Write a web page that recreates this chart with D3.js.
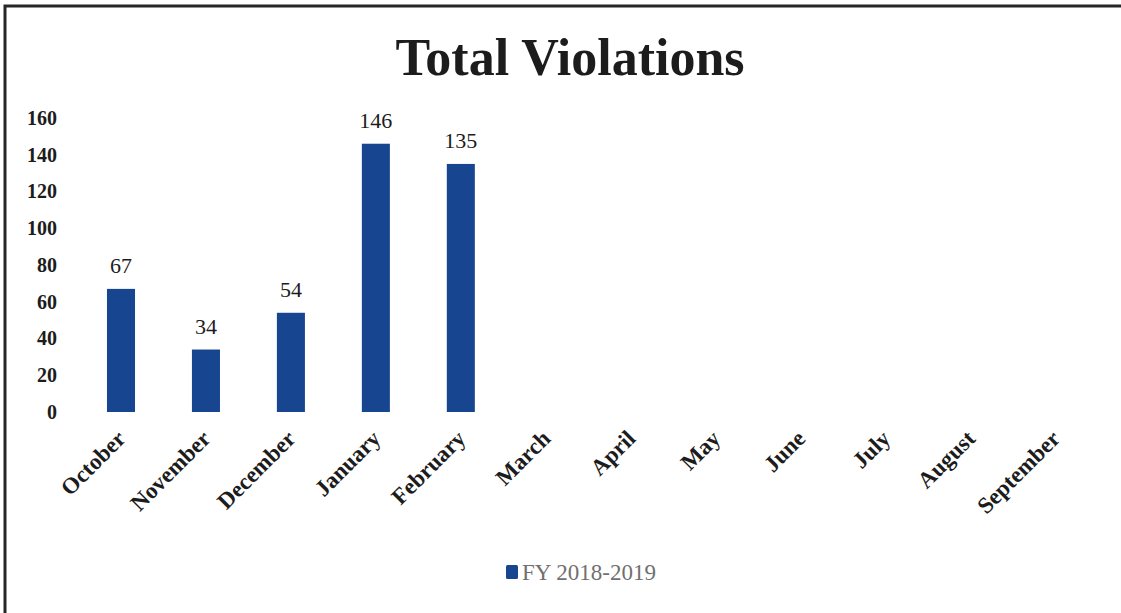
<!DOCTYPE html>
<html>
<head>
<meta charset="utf-8">
<script src="https://cdn.jsdelivr.net/npm/d3@7"></script>
<style>
  body { margin: 0; background: #fff; }
  svg { display: block; }
</style>
</head>
<body>
<div id="viz"></div>
<script>
 // Chart data
 var months = ['October','November','December','January','February','March',
               'April','May','June','July','August','September']
 var violations = [67, 34, 54, 146, 135, null, null, null, null, null, null, null]
 var yTicks = [0, 20, 40, 60, 80, 100, 120, 140, 160]
 var seriesName = 'FY 2018-2019'
 var chartTitle = 'Total Violations'

 var width = 1121, height = 613
 var barColor = '#17458f'
 var serif = '"Liberation Serif", "DejaVu Serif", serif'

 var svg = d3.select('#viz').append('svg')
     .attr('width', width)
     .attr('height', height)

 // frame lines (top and left, as in the scanned original)
 svg.append('path')
     .attr('d', 'M5,' + height + 'V6H' + width)
     .attr('fill', 'none')
     .attr('stroke', '#262626')
     .attr('stroke-width', 3)

 // scales
 var x = d3.scaleBand()
     .domain(months)
     .range([64.5, 1112])
     .paddingInner(0.67)
     .paddingOuter(0.5)

 var y = d3.scaleLinear()
     .domain([0, 160])
     .range([412, 118])

 var data = months.map((m, i) => ({month: m, value: violations[i]}))

 // title
 svg.append('text')
     .attr('x', 570)
     .attr('y', 75)
     .attr('text-anchor', 'middle')
     .style('font-family', serif)
     .style('font-weight', 'bold')
     .style('font-size', '52px')
     .attr('fill', '#1c1c1c')
     .text(chartTitle)

 // y axis, labels only
 var yAxis = d3.axisLeft(y)
     .tickValues(yTicks)
     .tickSize(0)
     .tickPadding(0)

 var gy = svg.append('g')
     .attr('transform', 'translate(57,0)')
     .call(yAxis)
 gy.select('.domain').remove()
 gy.selectAll('text')
     .style('font-family', serif)
     .style('font-weight', 'bold')
     .style('font-size', '20px')
     .attr('fill', '#1c1c1c')

 // x axis, rotated month names
 var xAxis = d3.axisBottom(x)
     .tickSize(0)
     .tickPadding(0)

 var gx = svg.append('g')
     .attr('transform', 'translate(0,' + y(0) + ')')
     .call(xAxis)
 gx.select('.domain').remove()
 gx.selectAll('text')
     .style('font-family', serif)
     .style('font-weight', 'bold')
     .style('font-size', '23px')
     .attr('fill', '#1c1c1c')
     .attr('text-anchor', 'end')
     .attr('dy', null)
     .attr('y', 0)
     .attr('transform', 'translate(6,28) rotate(-45)')

 // bars
 var bars = data.filter(d => d.value != null)

 svg.selectAll('rect.bar')
     .data(bars)
     .enter()
     .append('rect')
     .attr('class', 'bar')
     .attr('x', d => x(d.month))
     .attr('y', d => y(d.value))
     .attr('width', x.bandwidth())
     .attr('height', d => y(0) - y(d.value))
     .attr('fill', barColor)

 // value labels
 svg.selectAll('text.val')
     .data(bars)
     .enter()
     .append('text')
     .attr('class', 'val')
     .attr('x', d => x(d.month) + x.bandwidth() / 2)
     .attr('y', d => y(d.value) - 16)
     .attr('text-anchor', 'middle')
     .style('font-family', serif)
     .style('font-size', '22px')
     .attr('fill', '#1c1c1c')
     .text(d => d.value)

 // legend
 var legend = svg.append('g')
     .attr('transform', 'translate(506,565)')
 legend.append('rect')
     .attr('width', 12)
     .attr('height', 14)
     .attr('rx', 1.5)
     .attr('fill', barColor)
 legend.append('text')
     .attr('x', 16)
     .attr('y', 15)
     .style('font-family', serif)
     .style('font-size', '23px')
     .attr('fill', '#707070')
     .text(seriesName)
</script>
</body>
</html>
